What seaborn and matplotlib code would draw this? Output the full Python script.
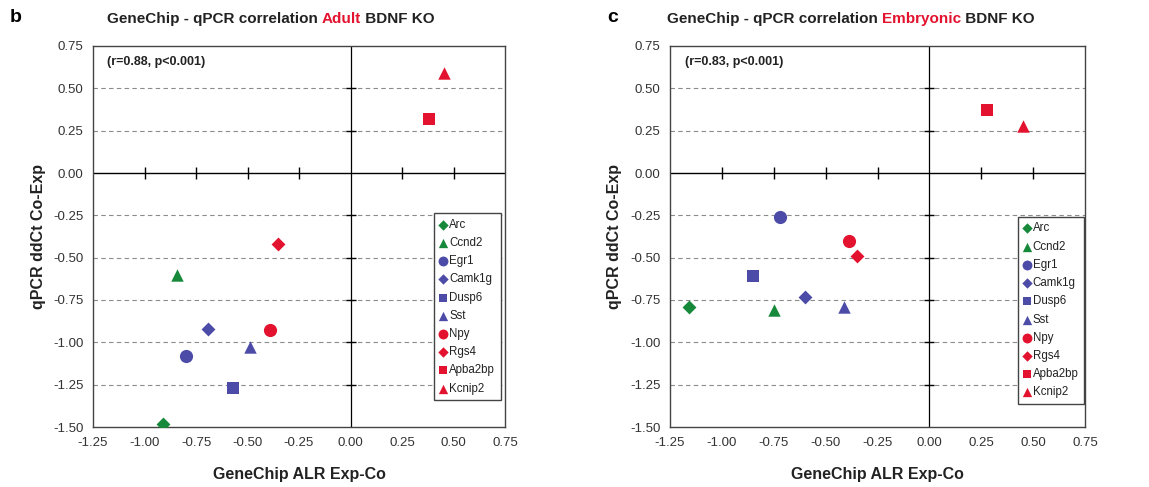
import matplotlib
matplotlib.use("Agg")
import matplotlib.pyplot as plt
import seaborn as sns
import pandas as pd
import numpy as np

# ---------------- data ----------------
genes = ["Arc", "Ccnd2", "Egr1", "Camk1g", "Dusp6", "Sst", "Npy", "Rgs4", "Apba2bp", "Kcnip2"]
adult_x = [-0.91, -0.84, -0.80, -0.69, -0.57, -0.49, -0.39, -0.35, 0.38, 0.455]
adult_y = [-1.48, -0.60, -1.08, -0.92, -1.27, -1.03, -0.93, -0.42, 0.32, 0.59]
embryo_x = [-1.16, -0.75, -0.72, -0.60, -0.85, -0.41, -0.386, -0.35, 0.276, 0.45]
embryo_y = [-0.79, -0.81, -0.26, -0.73, -0.61, -0.79, -0.40, -0.49, 0.37, 0.28]
xticks = [-1.25, -1.00, -0.75, -0.50, -0.25, 0.00, 0.25, 0.50, 0.75]
yticks = [-1.50, -1.25, -1.00, -0.75, -0.50, -0.25, 0.00, 0.25, 0.50, 0.75]
stats = ["(r=0.88, p<0.001)", "(r=0.83, p<0.001)"]
panel_labels = ["b", "c"]
title_words = ["Adult", "Embryonic"]

GREEN, BLUE, RED = "#17893b", "#4c4ca8", "#e3122e"
palette = {"Arc": GREEN, "Ccnd2": GREEN, "Egr1": BLUE, "Camk1g": BLUE, "Dusp6": BLUE,
           "Sst": BLUE, "Npy": RED, "Rgs4": RED, "Apba2bp": RED, "Kcnip2": RED}
markers = {"Arc": "D", "Ccnd2": "^", "Egr1": "o", "Camk1g": "D", "Dusp6": "s",
           "Sst": "^", "Npy": "o", "Rgs4": "D", "Apba2bp": "s", "Kcnip2": "^"}
sizes = {"D": 50, "^": 80, "o": 90, "s": 65}

sns.set_theme(style="white")
plt.rcParams["font.family"] = ["Liberation Sans", "DejaVu Sans"]

fig = plt.figure(figsize=(11.49, 4.87), dpi=100)
W, H = 1149, 487
axes_px = [(93, 505), (670, 1085)]
top_px, bot_px = 46, 427
title_start = [107, 667]
panel_x = [10, 607]
legend_anchor = [(0.99, 0.562), (0.998, 0.552)]

datasets = [(adult_x, adult_y), (embryo_x, embryo_y)]

for i, (xs, ys) in enumerate(datasets):
    l, r = axes_px[i]
    ax = fig.add_axes([l / W, 1 - bot_px / H, (r - l) / W, (bot_px - top_px) / H])
    df = pd.DataFrame({"x": xs, "y": ys, "gene": genes})
    for g in genes:
        sub = df[df.gene == g]
        sns.scatterplot(data=sub, x="x", y="y", color=palette[g], marker=markers[g],
                        s=sizes[markers[g]], linewidth=0, ax=ax, label=g, zorder=5)
    ax.set_xlim(xticks[0], xticks[-1])
    ax.set_ylim(yticks[0], yticks[-1])
    ax.set_xticks(xticks)
    ax.set_yticks(yticks)
    ax.set_xticklabels([f"{t:.2f}" for t in xticks])
    ax.set_yticklabels([f"{t:.2f}" for t in yticks])
    ax.tick_params(length=0, labelsize=9.5, colors="#333333", pad=7)
    for sp in ax.spines.values():
        sp.set_color("#444444")
        sp.set_linewidth(1.0)
        sp.set_visible(True)
    for t in yticks[1:-1]:
        if t != 0:
            ax.axhline(t, color="#8c8c8c", lw=0.8, ls=(0, (4, 3)), zorder=1)
    ax.axhline(0, color="black", lw=1.0, zorder=2)
    ax.axvline(0, color="black", lw=0.9, zorder=2)
    # crossing tick marks on the zero axes
    xt_in = [t for t in xticks[1:-1] if t != 0]
    yt_in = [t for t in yticks[1:-1] if t != 0]
    ax.plot(xt_in, [0] * len(xt_in), ls="none", marker="|", ms=8, mew=1.0, color="black", zorder=3)
    ax.plot([0] * len(yt_in), yt_in, ls="none", marker="_", ms=7, mew=1.0, color="black", zorder=3)

    ax.set_xlabel("GeneChip ALR Exp-Co", fontsize=11.5, fontweight="bold", color="#222222")
    ax.set_ylabel("qPCR ddCt Co-Exp", fontsize=11.5, fontweight="bold", color="#222222")
    ax.xaxis.set_label_coords(0.5, -0.105)
    ax.yaxis.set_label_coords(-0.115, 0.5)

    ax.text(0.035, 0.975, stats[i], transform=ax.transAxes, ha="left", va="top",
            fontsize=9, fontweight="bold", color="#222222")

    leg = ax.legend(loc="upper right", bbox_to_anchor=legend_anchor[i], fontsize=8.3,
                    frameon=True, fancybox=False, edgecolor="#444444", framealpha=1,
                    handlelength=0.6, handletextpad=0.2, labelspacing=0.54,
                    borderpad=0.5, markerscale=0.75, borderaxespad=0)
    leg.get_frame().set_linewidth(1.0)
    for txt in leg.get_texts():
        txt.set_color("#222222")

    # title with coloured word
    t1 = fig.text(title_start[i] / W, 1 - 19 / H, "GeneChip - qPCR correlation ", ha="left",
                  va="center", fontsize=11, fontweight="bold", color="#222222")
    a2 = ax.annotate(title_words[i], xy=(1, 0), xycoords=t1, ha="left", va="bottom",
                     fontsize=11, fontweight="bold", color=RED, annotation_clip=False)
    ax.annotate(" BDNF KO", xy=(1, 0), xycoords=a2, ha="left", va="bottom",
                fontsize=11, fontweight="bold", color="#222222", annotation_clip=False)
    fig.text(panel_x[i] / W, 1 - 18 / H, panel_labels[i], ha="left", va="center",
             fontsize=14, fontweight="bold", color="black")

fig.savefig("out.png", dpi=100)
